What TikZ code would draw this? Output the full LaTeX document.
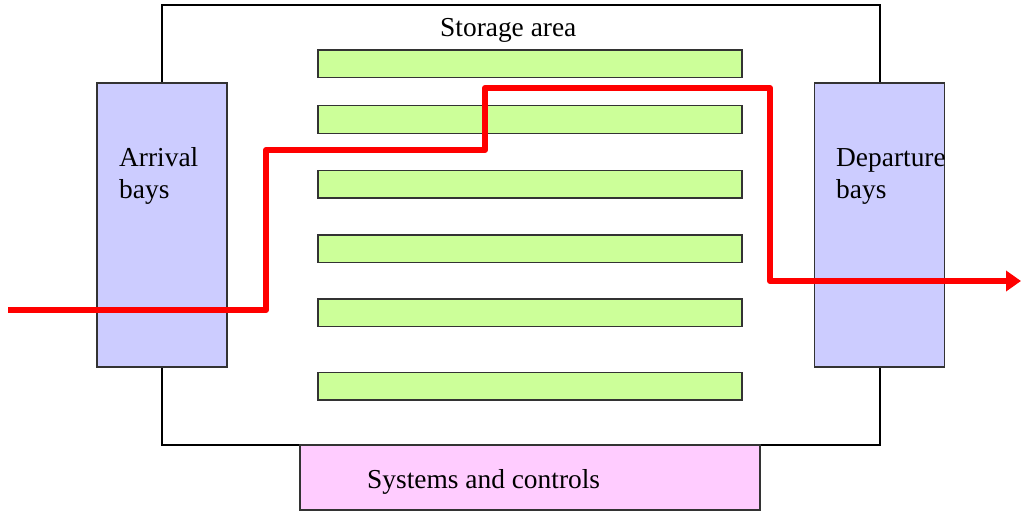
\documentclass[tikz,border=0pt]{standalone}
\usepackage{fontspec}
\setmainfont{Liberation Serif}
\usetikzlibrary{arrows.meta}
\definecolor{bay}{HTML}{CCCCFF}
\definecolor{shelf}{HTML}{CCFF99}
\definecolor{sys}{HTML}{FFCCFF}
\definecolor{edge}{HTML}{333333}
\begin{document}
\begin{tikzpicture}[x=1pt,y=-1pt,
  box/.style={draw=edge,line width=1.5pt,inner sep=0pt,outer sep=0pt},
  baybox/.style={box,fill=bay,minimum width=130pt,minimum height=284pt},
  shelfbox/.style={box,fill=shelf,minimum width=424pt,minimum height=27.5pt},
  lbl/.style={font=\fontsize{27.4}{32}\selectfont,inner sep=0pt,anchor=base west,align=left},
  flow/.style={draw=red,line width=6pt,line join=round,-{Triangle[length=15pt,width=20pt]}}]
\useasboundingbox (0,0) rectangle (1021,511);
% main area
\node[draw=black,line width=1.2pt,inner sep=0pt,minimum width=718pt,minimum height=440pt] (main) at (521,225) {};
% bays
\node[baybox] (arr) at (162,225) {};
\node[baybox] (dep) at (879.5,225) {};
% shelves
\node[shelfbox] (s1) at (530,64) {};
\node[shelfbox] (s2) at (530,119.5) {};
\node[shelfbox] (s3) at (530,184) {};
\node[shelfbox] (s4) at (530,248.5) {};
\node[shelfbox] (s5) at (530,312.5) {};
\node[shelfbox] (s6) at (530,386) {};
% systems
\node[box,fill=sys,minimum width=460pt,minimum height=65pt] (sys) at (530,477.5) {};
% labels
\node[lbl] (tstore) at (440,37) {Storage area};
\node[lbl] (tarr) at (119,198) {Arrival\\bays};
\node[lbl] (tdep) at (836,198) {Departure\\bays};
\node[lbl] (tsys) at (367,488) {Systems and controls};
% flow path
\coordinate (p0) at (8,310);
\coordinate (p1) at (266,310);
\coordinate (p2) at (266,150);
\coordinate (p3) at (485,150);
\coordinate (p4) at (485,88);
\coordinate (p5) at (770,88);
\coordinate (p6) at (770,281);
\coordinate (p7) at (1021,281);
\draw[flow] (p0) -- (p1) -- (p2) -- (p3) -- (p4) -- (p5) -- (p6) -- (p7);
\end{tikzpicture}
\end{document}
